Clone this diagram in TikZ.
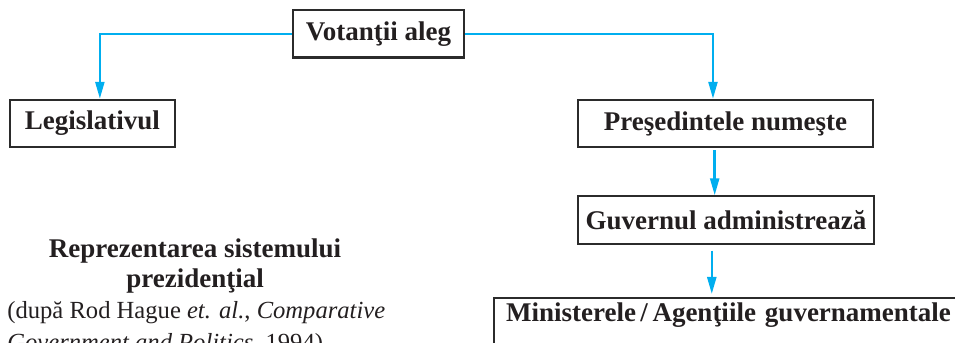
\documentclass[tikz,border=0pt]{standalone}
\usepackage{fontspec}
\setmainfont{LiberationSerif}[Extension=.ttf,UprightFont=*-Regular,BoldFont=*-Bold,ItalicFont=*-Italic,BoldItalicFont=*-BoldItalic]
\usepackage{xcolor}
\usepackage{tikz}
\usetikzlibrary{arrows.meta}
\definecolor{cA}{HTML}{00AEEF}
\definecolor{cB}{HTML}{2B2B2B}
\definecolor{cT}{HTML}{231F20}
\tikzset{box/.style={draw=cB,line width=1.1pt,text=cT,inner xsep=0pt,minimum height=0.83cm,font=\fontsize{13.5}{15}\selectfont\bfseries},
  link/.style={cA,line width=1.2pt,-{Triangle[length=8.5pt,width=4.5pt]}}}

\begin{document}
\begin{tikzpicture}
  \clip (0,0) rectangle (16.782,6.010);
  \node[box,minimum width=3.005cm] (vot) at (6.651,5.413) {Votanţii aleg};
  \node[box,minimum width=2.900cm] (leg) at (1.625,3.840) {Legislativul};
  \node[box,minimum width=5.184cm] (pres) at (12.749,3.840) {Preşedintele numeşte};
  \node[box,minimum width=5.202cm] (guv) at (12.758,2.144) {Guvernul administrează};
  \node[box,anchor=north west,inner xsep=0.21cm,text width=8.4cm,align=left,inner ysep=3pt,text height=8.5pt,text depth=15pt] (min) at (8.663,0.791) {Ministerele\,/\,Agenţiile guvernamentale};
  \draw[link] (vot.west) -| ([xshift=0.13cm]leg.north);
  \draw[link] (vot.east) -| ([xshift=-0.22cm]pres.north);
  \draw[link,shorten <=1pt] ([xshift=-0.19cm]pres.south) -- ([xshift=-0.19cm]pres.south |- guv.north);
  \draw[link,shorten <=3pt,shorten >=1.5pt] ([xshift=-0.25cm]guv.south) -- ([xshift=-0.25cm]guv.south |- min.north);
  \node[text=cT,align=center,anchor=base,inner sep=0pt,font=\fontsize{13.5}{15}\selectfont\bfseries] (title) at (3.427,0.949) {Reprezentarea sistemului\\prezidenţial};
  \node[text=cT,align=left,anchor=base west,inner sep=0pt,font=\fontsize{12.3}{16}\selectfont] (source) at (0.123,-0.141) {(după Rod Hague \textit{et. al.}, \textit{Comparative}\\\textit{Government and Politics}, 1994)};
\end{tikzpicture}
\end{document}
